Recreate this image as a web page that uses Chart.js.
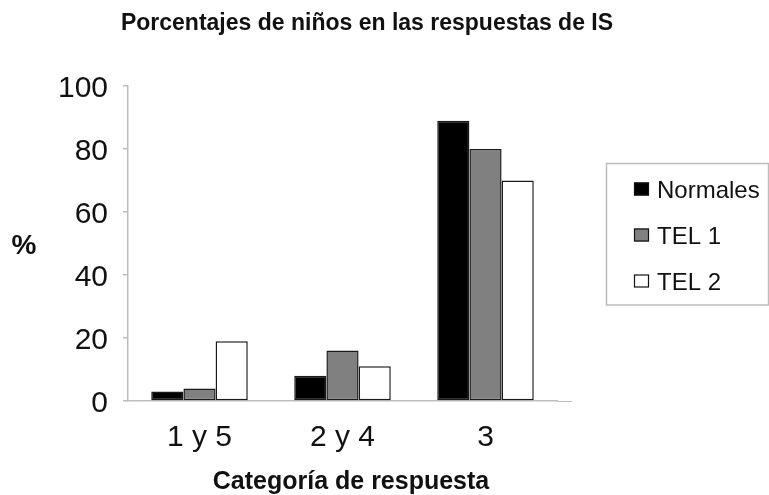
<!DOCTYPE html>
<html lang="es">
<head>
<meta charset="utf-8">
<title>Porcentajes de niños en las respuestas de IS</title>
<script src="https://cdn.jsdelivr.net/npm/chart.js@4/dist/chart.umd.min.js"></script>
<style>
  html, body { margin: 0; padding: 0; background: #ffffff; }
  #wrap { width: 769px; height: 495px; }
</style>
</head>
<body>
<div id="wrap"><canvas id="chart" width="769" height="495"></canvas></div>
<script>
// Response categories and percentage of children per group
const categories = ['1 y 5', '2 y 4', '3'];
const seriesNames = ['Normales', 'TEL 1', 'TEL 2'];
const normales = [3, 8, 89];
const tel1 = [4, 16, 80];
const tel2 = [19, 11, 70];
const yTickValues = [0, 20, 40, 60, 80, 100];

const titleText = 'Porcentajes de niños en las respuestas de IS';
const xTitleText = 'Categoría de respuesta';
const yTitleText = '%';

const FONT = "'Liberation Sans', Arial, Helvetica, sans-serif";
const INK = '#111111';
const AXIS = '#bdbdbd';

const fills = ['#000000', '#808080', '#ffffff'];

// Titles, the horizontal "%" label and the boxed legend
const annotations = {
  id: 'annotations',
  afterDraw(chart) {
    const ctx = chart.ctx;
    const area = chart.chartArea;
    ctx.save();

    // x axis line runs a little past the last group
    ctx.strokeStyle = AXIS;
    ctx.lineWidth = 1;
    ctx.beginPath();
    ctx.moveTo(area.right, Math.round(area.bottom) + 0.5);
    ctx.lineTo(area.right + 15, Math.round(area.bottom) + 0.5);
    ctx.stroke();

    ctx.fillStyle = INK;
    ctx.textAlign = 'center';
    ctx.textBaseline = 'middle';

    ctx.font = 'bold 23px ' + FONT;
    ctx.fillText(titleText, 367, 24);

    ctx.font = 'bold 25px ' + FONT;
    ctx.fillText(xTitleText, 351, 482);

    ctx.font = 'bold 28px ' + FONT;
    ctx.fillText(yTitleText, 24, 246);

    // legend frame
    ctx.strokeStyle = AXIS;
    ctx.lineWidth = 1.5;
    ctx.strokeRect(606.5, 163.5, 162, 141.5);

    // legend entries
    ctx.font = '24px ' + FONT;
    ctx.textAlign = 'left';
    chart.data.datasets.forEach((ds, i) => {
      const cy = 189 + i * 46;
      ctx.fillStyle = ds.backgroundColor;
      ctx.fillRect(634, cy - 6.5, 15, 13);
      ctx.strokeStyle = '#111111';
      ctx.lineWidth = 1.2;
      ctx.strokeRect(634.5, cy - 6, 14, 12);
      ctx.fillStyle = INK;
      ctx.fillText(ds.label, 657, cy + 2.5);
    });

    ctx.restore();
  }
};

const datasets = [normales, tel1, tel2].map((values, i) => ({
  label: seriesNames[i],
  data: values,
  backgroundColor: fills[i],
  borderColor: '#1a1a1a',
  borderWidth: 1.5,
  borderSkipped: false,
  barPercentage: 1.0,
  categoryPercentage: 0.675
}));

new Chart(document.getElementById('chart'), {
  type: 'bar',
  data: { labels: categories, datasets: datasets },
  options: {
    responsive: false,
    animation: false,
    devicePixelRatio: 1,
    layout: { padding: { top: 86, right: 212, bottom: 0, left: 0 } },
    plugins: {
      legend: { display: false },
      title: { display: false },
      tooltip: { enabled: false }
    },
    scales: {
      x: {
        type: 'category',
        offset: true,
        grid: { display: false, drawTicks: false },
        border: { display: true, color: AXIS, width: 1.5 },
        ticks: {
          color: INK,
          padding: 19,
          font: { family: FONT, size: 30 }
        },
        afterFit(scale) { scale.height = 94; }
      },
      y: {
        min: 0,
        max: 100,
        grid: { drawOnChartArea: false, drawTicks: true, tickLength: 5, color: AXIS, lineWidth: 1.5 },
        border: { display: true, color: AXIS, width: 1.5 },
        afterBuildTicks(scale) { scale.ticks = yTickValues.map(v => ({ value: v })); },
        ticks: {
          color: INK,
          padding: 15,
          labelOffset: 3,
          font: { family: FONT, size: 30 }
        },
        afterFit(scale) { scale.width = 128; }
      }
    }
  },
  plugins: [annotations]
});
</script>
</body>
</html>
